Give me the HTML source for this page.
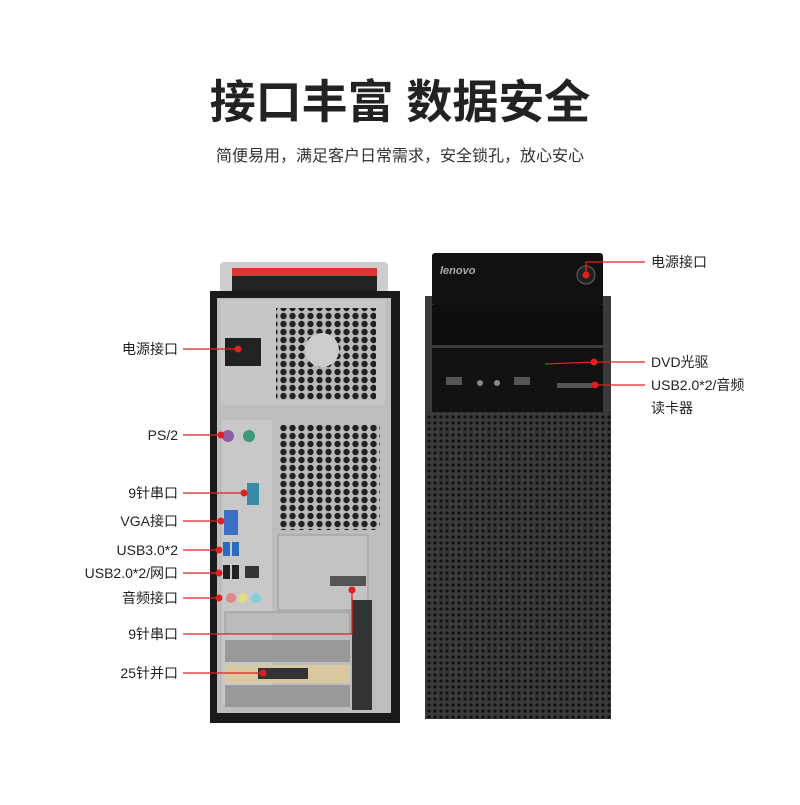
<!DOCTYPE html>
<html><head><meta charset="utf-8"><style>
body{margin:0;width:800px;height:800px;background:#fff;overflow:hidden;font-family:"Liberation Sans","Noto Sans CJK SC",sans-serif}
</style></head><body>
<svg width="800" height="800" xmlns="http://www.w3.org/2000/svg" font-family="Liberation Sans, Noto Sans CJK SC, sans-serif">
<defs>
<pattern id="hex" width="9" height="8" patternUnits="userSpaceOnUse"><rect width="9" height="8" fill="#bbb"/><circle cx="4.5" cy="4" r="3.2" fill="#222"/></pattern>
<pattern id="mesh" width="6" height="6" patternUnits="userSpaceOnUse"><rect width="6" height="6" fill="#3a3a3a"/><circle cx="3" cy="3" r="1.6" fill="#111"/></pattern>
</defs>
<text x="400" y="118" font-size="46" text-anchor="middle" fill="#222" font-weight="bold">接口丰富 数据安全</text>
<text x="400" y="161" font-size="16" text-anchor="middle" fill="#333">简便易用，满足客户日常需求，安全锁孔，放心安心</text>

<!-- back tower -->
<rect x="220" y="262" width="168" height="34" rx="4" fill="#ccc"/>
<rect x="232" y="268" width="145" height="8" fill="#d33"/>
<rect x="232" y="276" width="145" height="18" fill="#222"/>
<rect x="210" y="291" width="190" height="432" fill="#1a1a1a"/>
<rect x="217" y="298" width="174" height="415" fill="#bdbdbd"/>
<rect x="220" y="300" width="165" height="105" fill="#c6c6c6"/>
<rect x="225" y="338" width="36" height="28" fill="#222"/>
<rect x="276" y="308" width="100" height="92" fill="url(#hex)"/>
<circle cx="322" cy="350" r="17" fill="#ccc"/>
<rect x="222" y="420" width="50" height="285" fill="#c8c8c8"/>
<rect x="280" y="425" width="100" height="105" fill="url(#hex)"/>
<rect x="278" y="535" width="90" height="75" fill="#c3c3c3" stroke="#999"/>
<circle cx="228" cy="436" r="6" fill="#8a5fa6"/><circle cx="249" cy="436" r="6" fill="#3a9a7a"/>
<rect x="247" y="483" width="12" height="22" fill="#3b8aa6"/>
<rect x="224" y="510" width="14" height="25" fill="#3b6fc5"/>
<rect x="223" y="542" width="7" height="14" fill="#2a6cc0"/><rect x="232" y="542" width="7" height="14" fill="#2a6cc0"/>
<rect x="223" y="565" width="7" height="14" fill="#222"/><rect x="232" y="565" width="7" height="14" fill="#222"/><rect x="245" y="566" width="14" height="12" fill="#333"/>
<circle cx="231" cy="598" r="5" fill="#d88"/><circle cx="243" cy="598" r="5" fill="#dd8"/><circle cx="256" cy="598" r="5" fill="#8cd"/>
<rect x="330" y="576" width="36" height="10" fill="#555"/>
<rect x="225" y="612" width="125" height="22" fill="#bbb" stroke="#999"/>
<rect x="225" y="640" width="125" height="22" fill="#999"/>
<rect x="225" y="665" width="125" height="18" fill="#d9c9a0"/>
<rect x="258" y="668" width="50" height="11" fill="#333"/>
<rect x="225" y="685" width="125" height="22" fill="#999"/>
<rect x="352" y="600" width="20" height="110" fill="#333"/>

<!-- front tower -->
<rect x="425" y="296" width="186" height="423" fill="#3a3a3a"/>
<rect x="425" y="412" width="186" height="307" fill="url(#mesh)"/>
<rect x="432" y="253" width="171" height="52" rx="3" fill="#111"/>
<text x="440" y="274" font-size="11" font-style="italic" font-weight="bold" fill="#aaa">lenovo</text>
<circle cx="586" cy="275" r="9" fill="#222" stroke="#666"/>
<rect x="432" y="305" width="171" height="40" fill="#0e0e0e"/>
<rect x="432" y="348" width="171" height="64" fill="#121212"/>
<rect x="446" y="377" width="16" height="8" fill="#555"/><rect x="514" y="377" width="16" height="8" fill="#555"/>
<circle cx="480" cy="383" r="3" fill="#888"/><circle cx="497" cy="383" r="3" fill="#888"/>
<rect x="557" y="383" width="35" height="5" fill="#555"/>

<!-- connectors left -->
<g stroke="#e02020" stroke-width="1.3" fill="none">
<line x1="183" y1="349" x2="238" y2="349"/>
<line x1="183" y1="435" x2="221" y2="435"/>
<line x1="183" y1="493" x2="244" y2="493"/>
<line x1="183" y1="521" x2="221" y2="521"/>
<line x1="183" y1="550" x2="219" y2="550"/>
<line x1="183" y1="573" x2="219" y2="573"/>
<line x1="183" y1="598" x2="219" y2="598"/>
<polyline points="183,634 352,634 352,590"/>
<line x1="183" y1="673" x2="263" y2="673"/>
<polyline points="586,275 586,262 645,262"/>
<line x1="594" y1="362" x2="645" y2="362"/>
<line x1="595" y1="385" x2="645" y2="385"/>
<line x1="545" y1="364" x2="594" y2="362"/>
</g>
<g fill="#e02020">
<circle cx="238" cy="349" r="3.5"/><circle cx="221" cy="435" r="3.5"/><circle cx="244" cy="493" r="3.5"/>
<circle cx="221" cy="521" r="3.5"/><circle cx="219" cy="550" r="3.5"/><circle cx="219" cy="573" r="3.5"/>
<circle cx="219" cy="598" r="3.5"/><circle cx="352" cy="590" r="3.5"/><circle cx="263" cy="673" r="3.5"/>
<circle cx="586" cy="275" r="3.5"/><circle cx="594" cy="362" r="3.5"/><circle cx="595" cy="385" r="3.5"/>
</g>
<g font-size="14" fill="#222" text-anchor="end">
<text x="178" y="354">电源接口</text>
<text x="178" y="440">PS/2</text>
<text x="178" y="498">9针串口</text>
<text x="178" y="526">VGA接口</text>
<text x="178" y="555">USB3.0*2</text>
<text x="178" y="578">USB2.0*2/网口</text>
<text x="178" y="603">音频接口</text>
<text x="178" y="639">9针串口</text>
<text x="178" y="678">25针并口</text>
</g>
<g font-size="14" fill="#222">
<text x="651" y="267">电源接口</text>
<text x="651" y="367">DVD光驱</text>
<text x="651" y="390">USB2.0*2/音频</text>
<text x="651" y="413">读卡器</text>
</g>
</svg>
</body></html>
